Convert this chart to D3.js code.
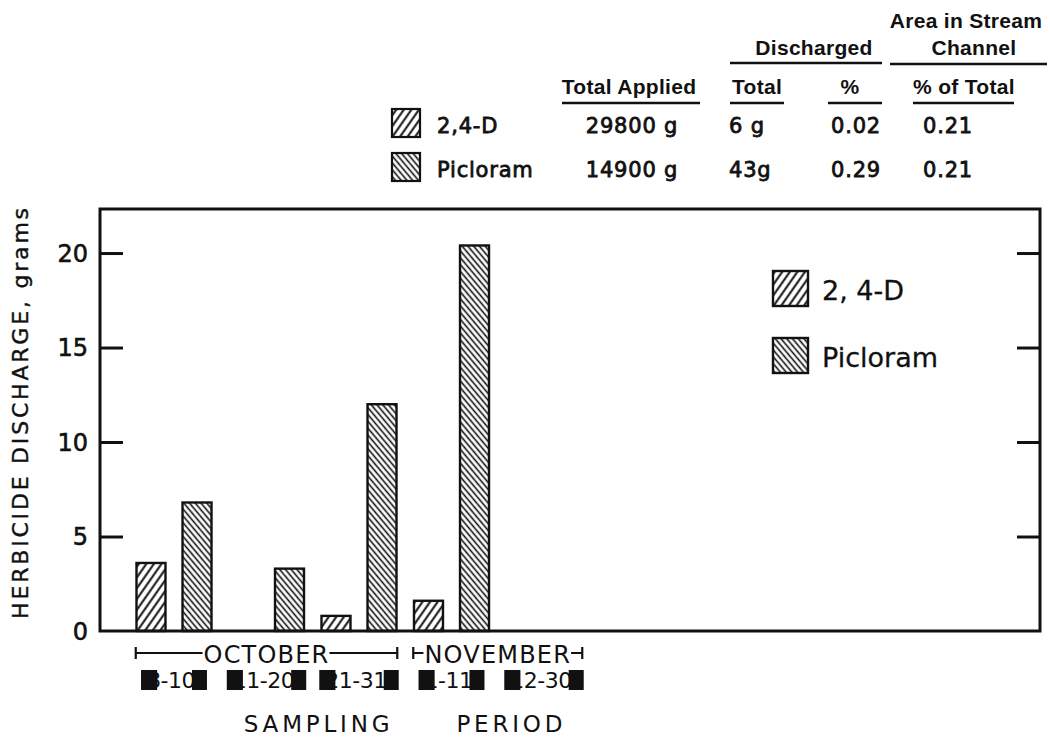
<!DOCTYPE html>
<html><head><meta charset="utf-8">
<script src="https://cdn.jsdelivr.net/npm/d3@7"></script>
<style>body{margin:0;background:#fff}svg{display:block}</style>
</head><body><svg id="chart" width="1050" height="738"></svg>
<script>
// ---------- data ----------
const periods = ["8-10", "11-20", "21-31", "1-11", "12-30"];
const series = ["2,4-D", "Picloram"];
const legendLabels = ["2, 4-D", "Picloram"];
const values24D = [3.6, 0, 0.8, 1.6, 0];
const valuesPicloram = [6.8, 3.3, 12.0, 20.4, 0];
const yTicks = [0, 5, 10, 15, 20];
const yTickLabels = ["0", "5", "10", "15", "20"];
const months = ["OCTOBER", "NOVEMBER"];
const monthFirst = [0, 3];
const monthLast = [2, 4];
const totalApplied = ["29800 g", "14900 g"];
const dischargedTotal = ["6 g", "43g"];
const dischargedPct = ["0.02", "0.29"];
const areaPct = ["0.21", "0.21"];

// ---------- setup ----------
const svg = d3.select("#chart");
const ink = "#111";
const frame = {left: 100, right: 1040, top: 209, bottom: 631};

const defs = svg.append("defs");
function hatch(id, spacing, angle, sw) {
  const p = defs.append("pattern").attr("id", id)
    .attr("patternUnits", "userSpaceOnUse")
    .attr("width", spacing).attr("height", spacing)
    .attr("patternTransform", `rotate(${angle})`);
  p.append("rect").attr("width", spacing).attr("height", spacing).attr("fill", "#fff");
  p.append("line").attr("x1", spacing / 2).attr("x2", spacing / 2)
    .attr("y1", 0).attr("y2", spacing)
    .attr("stroke", ink).attr("stroke-width", sw);
}
hatch("h24d", 6.2, 35, 2.0);
hatch("hpic", 4.4, -40, 1.6);
const fillFor = {"2,4-D": "url(#h24d)", "Picloram": "url(#hpic)"};

// ---------- scales ----------
const x0 = d3.scaleBand().domain(periods).range([127.75, 590.25]).paddingInner(0).paddingOuter(0);
const x1 = d3.scaleBand().domain(series).range([0, x0.bandwidth()]).paddingInner(0.37).paddingOuter(0.19);
const y = d3.scaleLinear().domain([0, 22.33]).range([frame.bottom, frame.top]);

// ---------- bars ----------
const barData = [];
periods.forEach((p, i) => {
  barData.push({period: p, s: "2,4-D", v: values24D[i]});
  barData.push({period: p, s: "Picloram", v: valuesPicloram[i]});
});
svg.append("g").selectAll("rect").data(barData.filter(d => d.v > 0)).join("rect")
  .attr("x", d => x0(d.period) + x1(d.s))
  .attr("y", d => y(d.v))
  .attr("width", x1.bandwidth())
  .attr("height", d => y(0) - y(d.v))
  .attr("fill", d => fillFor[d.s])
  .attr("stroke", ink).attr("stroke-width", 2.4);

// ---------- frame + axes ----------
svg.append("rect").attr("x", frame.left).attr("y", frame.top)
  .attr("width", frame.right - frame.left).attr("height", frame.bottom - frame.top)
  .attr("fill", "none").attr("stroke", ink).attr("stroke-width", 3);

const leftAxis = d3.axisLeft(y).tickValues(yTicks.filter(t => t > 0)).tickSize(-23).tickFormat("");
const gl = svg.append("g").attr("transform", `translate(${frame.left},0)`).call(leftAxis);
gl.select(".domain").remove();
gl.selectAll(".tick line").attr("stroke", ink).attr("stroke-width", 3);

const rightAxis = d3.axisRight(y).tickValues(yTicks.filter(t => t > 0)).tickSize(-23).tickFormat("");
const gr = svg.append("g").attr("transform", `translate(${frame.right},0)`).call(rightAxis);
gr.select(".domain").remove();
gr.selectAll(".tick line").attr("stroke", ink).attr("stroke-width", 3);

svg.append("g").selectAll("text").data(yTicks).join("text")
  .attr("x", 88).attr("y", d => y(d)).attr("dy", "0.36em")
  .attr("text-anchor", "end")
  .attr("font-family", "DejaVu Sans").attr("font-size", 24).attr("fill", ink)
  .attr("stroke", ink).attr("stroke-width", 0.6)
  .text((d, i) => yTickLabels[i]);

svg.append("text")
  .attr("transform", "translate(28,412) rotate(-90)")
  .attr("text-anchor", "middle")
  .attr("font-family", "DejaVu Sans").attr("font-size", 22)
  .attr("letter-spacing", 2.8).attr("fill", ink)
  .attr("stroke", ink).attr("stroke-width", 0.4)
  .text("HERBICIDE DISCHARGE, grams");

// ---------- month brackets ----------
months.forEach((m, i) => {
  const xa = x0(periods[monthFirst[i]]) + 8;
  const xb = x0(periods[monthLast[i]]) + x0.bandwidth() - 8;
  const yl = 653;
  const g = svg.append("g");
  const t = g.append("text").attr("x", (xa + xb) / 2).attr("y", 663)
    .attr("text-anchor", "middle").attr("font-family", "DejaVu Sans")
    .attr("font-size", 24).attr("letter-spacing", 1.2).attr("fill", ink).text(m);
  const w = t.node().getComputedTextLength();
  const ts = (xa + xb) / 2 - w / 2, te = (xa + xb) / 2 + w / 2;
  g.append("line").attr("x1", xa).attr("x2", Math.max(xa, ts - 1)).attr("y1", yl).attr("y2", yl)
    .attr("stroke", ink).attr("stroke-width", 2);
  g.append("line").attr("x1", Math.min(xb, te)).attr("x2", xb).attr("y1", yl).attr("y2", yl)
    .attr("stroke", ink).attr("stroke-width", 2);
  [xa, xb].forEach(xx => g.append("line").attr("x1", xx).attr("x2", xx)
    .attr("y1", yl - 6).attr("y2", yl + 6).attr("stroke", ink).attr("stroke-width", 2.2));
});

// ---------- period labels with dark blotches ----------
periods.forEach((p, i) => {
  const cx = x0(p) + x0.bandwidth() / 2 - 3;
  const g = svg.append("g");
  const t = g.append("text").attr("x", cx).attr("y", 688).attr("text-anchor", "middle")
    .attr("font-family", "DejaVu Sans").attr("font-size", 22).attr("fill", ink)
    .attr("letter-spacing", -0.5).text(p);
  const w = t.node().getComputedTextLength();
  const c0 = t.node().getSubStringLength(0, 1);
  const ts = cx - w / 2, te = cx + w / 2;
  g.append("rect").attr("x", ts - 6).attr("y", 670).attr("width", c0 * 0.75 + 6).attr("height", 20).attr("fill", ink);
  g.append("rect").attr("x", te - 3).attr("y", 670).attr("width", 15).attr("height", 20).attr("fill", ink);
});

svg.append("text").attr("x", 405).attr("y", 732).attr("text-anchor", "middle")
  .attr("font-family", "DejaVu Sans").attr("font-size", 23)
  .attr("letter-spacing", 3.8).attr("word-spacing", 52).attr("fill", ink)
  .text("SAMPLING PERIOD");

// ---------- inner legend ----------
const lg = svg.append("g");
series.forEach((s, i) => {
  const yy = 271 + i * 67;
  lg.append("rect").attr("x", 773).attr("y", yy).attr("width", 35).attr("height", 35)
    .attr("fill", fillFor[s]).attr("stroke", ink).attr("stroke-width", 2.4);
  lg.append("text").attr("x", 822).attr("y", yy + 29)
    .attr("font-family", "DejaVu Sans").attr("font-size", 27).attr("fill", ink)
    .attr("stroke", ink).attr("stroke-width", 0.3)
    .text(legendLabels[i]);
});

// ---------- table ----------
const tb = svg.append("g").attr("fill", ink);
const hdr = (txt, xx, yy, anchor) => tb.append("text").attr("x", xx).attr("y", yy)
  .attr("text-anchor", anchor).attr("font-family", "Liberation Sans").attr("font-weight", "bold")
  .attr("font-size", 21).attr("letter-spacing", 0.3).text(txt);
const val = (txt, xx, yy, anchor) => tb.append("text").attr("x", xx).attr("y", yy)
  .attr("text-anchor", anchor).attr("font-family", "DejaVu Sans")
  .attr("stroke", ink).attr("stroke-width", 0.8)
  .attr("font-size", 21).attr("letter-spacing", 0.8).text(txt);
const rule = (xa, xb, yy) => tb.append("line").attr("x1", xa).attr("x2", xb).attr("y1", yy).attr("y2", yy)
  .attr("stroke", ink).attr("stroke-width", 2.4);

hdr("Area in Stream", 966, 28, "middle");
hdr("Channel", 974, 55, "middle");
hdr("Discharged", 814, 55, "middle");
rule(730, 882, 63);
rule(890, 1047, 64);
hdr("Total Applied", 629, 94, "middle");
hdr("Total", 757, 94, "middle");
hdr("%", 850, 94, "middle");
hdr("% of Total", 964, 94, "middle");
rule(562, 700, 103);
rule(730, 784, 103);
rule(828, 882, 103);
rule(913, 1014, 103);

series.forEach((s, i) => {
  const yb = 133 + i * 44;
  tb.append("rect").attr("x", 392).attr("y", yb - 24).attr("width", 28).attr("height", 28)
    .attr("fill", fillFor[s]).attr("stroke", ink).attr("stroke-width", 2.2);
  val(s, 437, yb, "start");
  val(totalApplied[i], 632, yb, "middle");
  val(dischargedTotal[i], 729, yb, "start");
  val(dischargedPct[i], 856, yb, "middle");
  val(areaPct[i], 948, yb, "middle");
});
</script>
</body></html>
